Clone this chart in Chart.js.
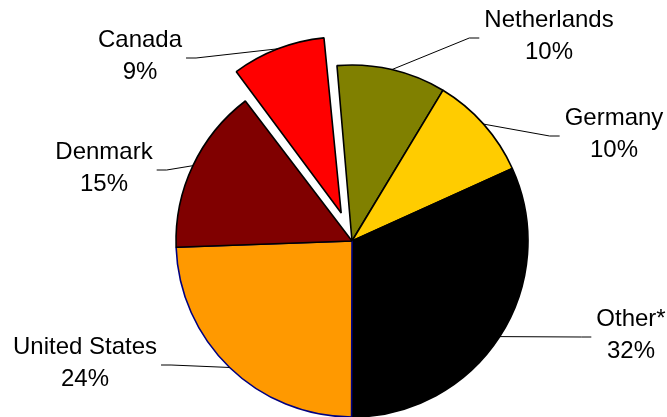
<!DOCTYPE html>
<html>
<head>
<meta charset="utf-8">
<script src="https://cdn.jsdelivr.net/npm/chart.js@4.4.1/dist/chart.umd.min.js"></script>
<style>
  html, body { margin: 0; padding: 0; background: #fff; }
  #wrap { width: 667px; height: 417px; position: relative; }
</style>
</head>
<body>
<div id="wrap"><canvas id="pie"></canvas></div>
<script>
const countries = ["Netherlands", "Germany", "Other*", "United States", "Denmark", "Canada"];
const shares = [10, 9.6, 31.8, 24.4, 15.2, 9];
const sliceColors = ["#808000", "#ffcc00", "#000000", "#ff9900", "#800000", "#ff0000"];
const edgeColors = ["#000000", "#000000", "#000000", "#000080", "#000000", "#000000"];
const explode = [0, 0, 0, 0, 0, 120];

// where each label block sits, relative to the pie centre
const labelPlace = [
  [197, -205],
  [262, -107],
  [279, 94],
  [-267, 122],
  [-248, -73],
  [-212, -185],
];

const total = shares.reduce((a, b) => a + b, 0);

function radiusGrow(arc) {
  const off = (arc.options.offset || 0) / 4;
  if (!off) return 0;
  return off * (1 - Math.sin(Math.min(Math.PI, arc.circumference)));
}

// chart.js grows an exploded slice's radius a bit; undo it so all slices match
const evenRadius = {
  id: "evenRadius",
  afterDatasetsUpdate(chart) {
    chart.getDatasetMeta(0).data.forEach((arc) => {
      arc.outerRadius -= radiusGrow(arc);
    });
  },
};

const leaderLabels = {
  id: "leaderLabels",
  afterDatasetsDraw(chart) {
    const ctx = chart.ctx;
    const arcs = chart.getDatasetMeta(0).data;
    const cx = arcs[0].x;
    const cy = arcs[0].y;
    ctx.save();
    ctx.font = '24px "Liberation Sans", Arial, sans-serif';
    ctx.fillStyle = "#000";
    ctx.strokeStyle = "#000";
    ctx.lineWidth = 1;
    arcs.forEach((arc, i) => {
      const mid = (arc.startAngle + arc.endAngle) / 2;
      const shift = (arc.options.offset || 0) / 4;
      const r = arc.outerRadius + radiusGrow(arc) + shift;
      const sx = arc.x + Math.cos(mid) * r;
      const sy = arc.y + Math.sin(mid) * r;

      const bx = cx + labelPlace[i][0];
      const by = cy + labelPlace[i][1];
      const line1 = countries[i];
      const line2 = Math.round((shares[i] / total) * 100) + "%";
      const w = Math.max(ctx.measureText(line1).width, ctx.measureText(line2).width);

      const right = labelPlace[i][0] > 0;
      const ex = right ? bx - w / 2 - 5 : bx + w / 2 + 4;
      const ey = by + 2;
      const kx = right ? ex - 10 : ex + 10;

      ctx.beginPath();
      ctx.moveTo(sx, sy);
      ctx.lineTo(kx, ey);
      ctx.lineTo(ex, ey);
      ctx.stroke();

      ctx.textAlign = "center";
      ctx.textBaseline = "middle";
      ctx.fillText(line1, bx, by - 16);
      ctx.fillText(line2, bx, by + 16);
    });
    ctx.restore();
  },
};

new Chart(document.getElementById("pie"), {
  type: "pie",
  data: {
    labels: countries,
    datasets: [{
      data: shares,
      backgroundColor: sliceColors,
      borderColor: edgeColors,
      borderWidth: 1.6,
      offset: explode,
      radius: 176,
    }],
  },
  options: {
    responsive: true,
    maintainAspectRatio: false,
    animation: false,
    rotation: -4.9,
    radius: 176,
    layout: { padding: { left: 37, top: 65, right: 0, bottom: 0 } },
    plugins: {
      legend: { display: false },
      tooltip: { enabled: false },
    },
  },
  plugins: [evenRadius, leaderLabels],
});
</script>
</body>
</html>
